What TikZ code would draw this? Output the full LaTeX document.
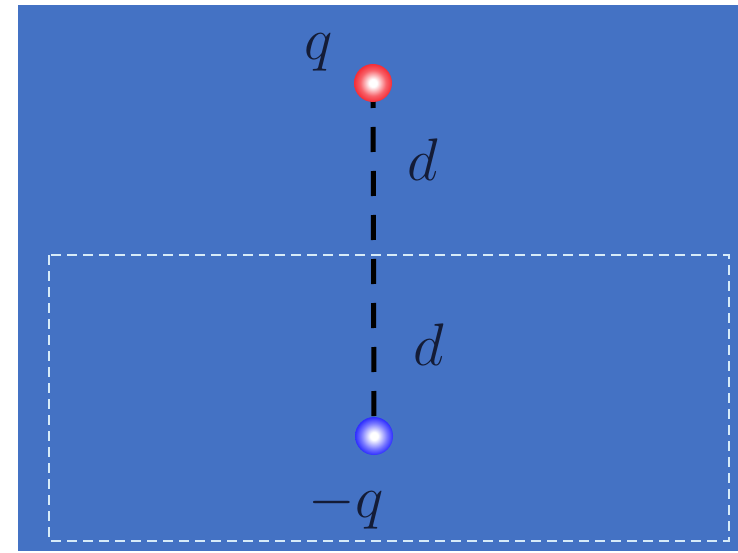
\RequirePackage{fix-cm}
\documentclass[tikz,border=0pt]{standalone}
\definecolor{bgblue}{RGB}{68,114,196}
\definecolor{labelcol}{RGB}{20,28,55}
\definecolor{dashwhite}{RGB}{215,235,248}
\definecolor{pos}{RGB}{245,45,55}
\definecolor{negc}{RGB}{45,45,255}
\pgfdeclareradialshading{redball}{\pgfpoint{0bp}{0bp}}{color(0bp)=(white); color(5bp)=(white); color(17bp)=(pos!75!white); color(25bp)=(pos); color(50bp)=(pos)}
\pgfdeclareradialshading{blueball}{\pgfpoint{0bp}{0bp}}{color(0bp)=(white); color(5bp)=(white); color(17bp)=(negc!65!white); color(25bp)=(negc); color(50bp)=(negc)}
\begin{document}
\begin{tikzpicture}[x=1pt,y=-1pt,
  lbl/.style={text=labelcol,font=\fontsize{60}{72}\selectfont,inner sep=0pt,anchor=base},
  charge/.style={circle,minimum size=38pt,inner sep=0pt}]
\useasboundingbox (0,0) rectangle (738,553);
\fill[white] (0,0) rectangle (738,553);
\fill[bgblue] (18,5) rectangle (738,551);
\draw[dashwhite,line width=1.8pt,dash pattern=on 10pt off 6pt] (49,255) rectangle (729,541);
\node[charge] (p) at (373,83) {};
\node[charge] (n) at (374,436) {};
\draw[black,line width=5pt,dash pattern=on 25pt off 19pt] (p.center) -- (n.center);
\shade[shading=redball] (p.center) circle (19pt);
\shade[shading=blueball] (n.center) circle (19pt);
\node[lbl] (lq) at (319,60) {$q$};
\node[lbl] (ld1) at (423,181) {$d$};
\node[lbl] (ld2) at (429,365) {$d$};
\node[lbl] (lnq) at (346,517) {$-q$};
\end{tikzpicture}
\end{document}
